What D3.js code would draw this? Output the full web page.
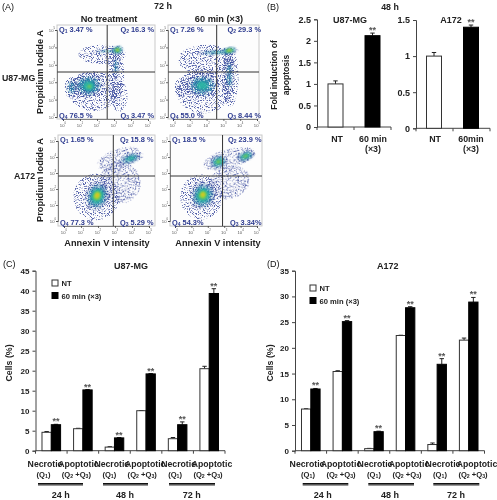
<!DOCTYPE html>
<html><head><meta charset="utf-8">
<script src="https://cdnjs.cloudflare.com/ajax/libs/d3/7.8.5/d3.min.js"></script>
<style>
html,body{margin:0;padding:0;background:#fff;overflow:hidden}
svg{display:block;filter:blur(0.35px)}
text{font-family:"Liberation Sans",Arial,sans-serif;font-weight:700;fill:#222}
</style></head><body>
<svg id="c" width="497" height="500"></svg>
<script>
// ---- Data ----
const decades = [0,1,2,3,4,5];
const densityColors = ["#3b4b9e","#1c7fa6","#2db8a4","#86cc3c","#efe21e","#ef8420"];
// flow cytometry density regions: [log x, log y, spread x, spread y, tilt deg, peak density level]
const blobsU87NT = [
 [1.8,1.5,1.5,1.15,0,0],[2.3,3.6,1.4,0.55,0,0],[3.1,2.4,0.5,1.6,0,0],[3.3,1.2,0.5,0.9,0,0],
 [0.5,1.7,0.4,0.65,0,1],[1.5,1.8,1.0,0.75,0,2],[1.55,1.75,0.45,0.4,0,3],
 [2.6,3.78,0.95,0.09,-2,2],[3.1,2.9,0.22,0.75,0,1],[3.2,3.85,0.36,0.25,-10,4]];
const blobsU87T = [
 [1.8,1.5,1.6,1.3,0,0],[2.0,3.3,1.7,0.85,0,0],[3.4,2.3,0.5,1.7,0,0],
 [0.5,1.7,0.4,0.6,0,0],[1.75,1.8,1.05,0.75,0,2],[1.7,1.85,0.4,0.35,0,2],
 [2.6,3.72,1.3,0.14,-3,2],[3.35,2.4,0.3,1.4,0,1],[3.35,3.82,0.5,0.2,-10,4]];
const blobsA172NT = [
 [1.9,1.5,1.35,1.45,0,0],[3.3,2.4,1.2,1.3,-30,0],[3.2,3.9,1.3,0.6,-20,0],
 [1.95,1.55,0.72,0.95,20,3],[1.95,1.6,0.36,0.5,25,5],
 [3.9,3.9,0.8,0.34,-18,2],[4.0,3.95,0.3,0.14,-18,2]];
const blobsA172T = [
 [1.6,1.5,1.3,1.4,0,0],[3.3,2.4,1.3,1.0,-20,0],[3.3,3.9,1.6,0.6,-15,0],
 [1.7,1.6,0.8,0.9,25,3],[1.7,1.65,0.34,0.42,30,5],
 [2.65,3.7,0.58,0.42,-20,3],[2.65,3.7,0.2,0.14,-20,3],
 [4.3,4.05,0.6,0.32,-20,3],[4.35,4.1,0.22,0.12,-20,3]];
const quadU87NT = ["Q_1 3.47 %","Q_2 16.3 %","Q_4 76.5 %","Q_3 3.47 %"];
const quadU87T  = ["Q_1 7.26 %","Q_2 29.3 %","Q_4 55.0 %","Q_3 8.44 %"];
const quadA172NT= ["Q_1 1.65 %","Q_2 15.8 %","Q_4 77.3 %","Q_3 5.29 %"];
const quadA172T = ["Q_1 18.5 %","Q_2 23.9 %","Q_4 54.3%","Q_3 3.34%"];
const gateLog = [2.6,2.6,2.9,2.9];

const foldCats = ["NT","60 min (×3)"];
const foldU87 = [1,2.12], foldU87Err = [0.07,0.06];
const foldA172 = [1,1.40], foldA172Err = [0.05,0.03];

const cellCats = ["n24","a24","n48","a48","n72","a72"];
const catTop = ["Necrotic","Apoptotic","Necrotic","Apoptotic","Necrotic","Apoptotic"];
const catBottom = ["(Q_1)","(Q_2 +Q_3)","(Q_1)","(Q_2 +Q_3)","(Q_1)","(Q_2 +Q_3)"];
const timeLabels = ["24 h","48 h","72 h"];
const u87NT = [4.6,5.5,0.9,10,3,20.5], u87NTErr = [0.2,0.1,0.1,0.05,0.3,0.6];
const u87T = [6.5,15.2,3.2,19.2,6.5,39.3], u87TErr = [0.1,0.1,0.1,0.1,0.7,1.2];
const a172NT = [8.1,15.4,0.4,22.4,1.2,21.5], a172NTErr = [0.05,0.15,0.05,0.05,0.3,0.4];
const a172T = [12,25.1,3.7,27.8,16.8,28.9], a172TErr = [0.1,0.2,0.1,0.2,1.1,0.9];

// ---- Drawing ----
const svg = d3.select("#c");
const defs = svg.append("defs");
const sp = defs.append("filter").attr("id","speckle").attr("x","-10%").attr("y","-10%").attr("width","120%").attr("height","120%");
sp.append("feTurbulence").attr("type","fractalNoise").attr("baseFrequency",0.85).attr("numOctaves",2).attr("seed",7).attr("result","n");
sp.append("feColorMatrix").attr("in","n").attr("type","matrix")
  .attr("values","0 0 0 0 0  0 0 0 0 0  0 0 0 0 0  7 0 0 0 -3.6").attr("result","a");
sp.append("feComposite").attr("in","SourceGraphic").attr("in2","a").attr("operator","in").attr("result","s");
sp.append("feGaussianBlur").attr("in","s").attr("stdDeviation",0.3);
const sf = defs.append("filter").attr("id","soft").attr("x","-30%").attr("y","-30%").attr("width","160%").attr("height","160%");
sf.append("feGaussianBlur").attr("stdDeviation",1.1);
const sg = defs.append("filter").attr("id","softSpeck").attr("x","-20%").attr("y","-20%").attr("width","140%").attr("height","140%");
sg.append("feGaussianBlur").attr("in","SourceGraphic").attr("stdDeviation",1.6).attr("result","b");
sg.append("feTurbulence").attr("type","fractalNoise").attr("baseFrequency",0.7).attr("numOctaves",2).attr("seed",3).attr("result","n");
sg.append("feColorMatrix").attr("in","n").attr("type","matrix")
  .attr("values","0 0 0 0 0  0 0 0 0 0  0 0 0 0 0  5 0 0 0 -1.7").attr("result","a");
sg.append("feComposite").attr("in","b").attr("in2","a").attr("operator","in");

function rich(sel, str){
  // "_x" subscript, "^x" superscript
  const parts = str.split(/([_^]\S)/).filter(p=>p.length);
  const fs = parseFloat(sel.attr("font-size"));
  let pending = 0;
  parts.forEach(p=>{
    if(p[0]==="_"||p[0]==="^"){
      const d = (p[0]==="_"?0.28:-0.42)*fs;
      sel.append("tspan").attr("dy",d+pending).attr("font-size",fs*0.68).text(p[1]);
      pending = -d;
    } else {
      const t = sel.append("tspan").text(p);
      if(pending) t.attr("dy",pending);
      pending = 0;
    }
  });
  return sel;
}
function label(x,y,str,size,anchor="middle",opt={}){
  const t = svg.append("text").attr("x",x).attr("y",y).attr("font-size",size)
    .attr("text-anchor",anchor).attr("dominant-baseline","central");
  if(opt.rotate) t.attr("transform",`rotate(${opt.rotate} ${x} ${y})`);
  if(opt.fill) t.style("fill",opt.fill);
  if(opt.weight) t.style("font-weight",opt.weight);
  if(opt.spacing) t.style("letter-spacing",opt.spacing);
  return rich(t,str);
}

let clipId=0;
function flow(p, blobs, quads, gate){
  const x = d3.scaleLinear().domain([0,5]).range([p.x0,p.x5]);
  const y = d3.scaleLinear().domain([0,5]).range([p.y0,p.y5]);
  const g = svg.append("g");
  const id = "clip"+(clipId++);
  defs.append("clipPath").attr("id",id).append("rect")
    .attr("x",p.l).attr("y",p.t).attr("width",p.r-p.l).attr("height",p.b-p.t);
  g.append("rect").attr("x",p.l).attr("y",p.t).attr("width",p.r-p.l).attr("height",p.b-p.t)
    .attr("fill","#fdfdfd").attr("stroke","#c9c9c9").attr("stroke-width",1);
  const art = g.append("g").attr("clip-path",`url(#${id})`);
  const ux = (x(1)-x(0)), uy = (y(0)-y(1));
  densityColors.forEach((col,k)=>{
    const layer = art.append("g");
    layer.selectAll("ellipse").data(blobs.filter(b=>b[5]>=k)).join("ellipse")
      .attr("rx",b=>b[2]*ux*(b[5]-k+1)/(b[5]+1))
      .attr("ry",b=>b[3]*uy*(b[5]-k+1)/(b[5]+1))
      .attr("transform",b=>`translate(${x(b[0])},${y(b[1])}) rotate(${b[4]})`)
      .attr("fill",col)
      .attr("opacity",k===0?0.85:0.8)
      .attr("filter",k===0?"url(#speckle)":(k===1?"url(#softSpeck)":"url(#soft)"));
  });
  // gates
  g.append("line").attr("x1",x(gate)).attr("x2",x(gate)).attr("y1",p.t).attr("y2",p.b).attr("stroke","#333").attr("stroke-width",1);
  g.append("line").attr("x1",p.l).attr("x2",p.r).attr("y1",p.gy).attr("y2",p.gy).attr("stroke","#333").attr("stroke-width",1);
  // axes
  const ax = d3.axisBottom(x).tickValues(decades).tickSize(2).tickFormat("");
  const ay = d3.axisLeft(y).tickValues(decades).tickSize(2).tickFormat("");
  const gx = g.append("g").attr("transform",`translate(0,${p.b})`).call(ax);
  const gy = g.append("g").attr("transform",`translate(${p.l},0)`).call(ay);
  [gx,gy].forEach(a=>{a.select(".domain").attr("stroke","#555").attr("stroke-width",0.7);a.selectAll("line").attr("stroke","#333").attr("stroke-width",0.7);});
  decades.forEach(d=>{
    label(x(d),p.b+6,"10^"+d,4.2,"middle",{fill:"#555",weight:400});
    label(p.l-5,y(d),"10^"+d,4.2,"middle",{fill:"#555",weight:400});
  });
  const qc = "#2c3a8f", qs = 7.4;
  label(p.l+2,p.t+4,quads[0],qs,"start",{fill:qc});
  label(p.qr,p.t+4,quads[1],qs,"end",{fill:qc});
  label(p.l+2,p.b-4,quads[2],qs,"start",{fill:qc});
  label(p.qr,p.b-4,quads[3],qs,"end",{fill:qc});
}

const rowA={t:25,b:119,gy:72,y0:117,y5:30}, rowB={t:135,b:226,gy:176,y0:221,y5:141};
flow({...rowA,l:57,r:155,x0:63,x5:148,qr:154},blobsU87NT,quadU87NT,gateLog[0]);
flow({...rowA,l:168,r:259,x0:173,x5:257,qr:261},blobsU87T,quadU87T,gateLog[1]);
flow({...rowB,l:58,r:155,x0:64,x5:149,qr:153.5},blobsA172NT,quadA172NT,gateLog[2]);
flow({...rowB,l:170,r:262,x0:175,x5:257,qr:261.5},blobsA172T,quadA172T,gateLog[3]);

label(2,7,"(A)",9,"start",{weight:400,fill:"#111"});
label(163,6,"72 h",9,"middle");
label(109,18.5,"No treatment",9.2);
label(219,18.5,"60 min (×3)",9.2);
label(2,78,"U87-MG",8.8,"start");
label(14,176,"A172",8.8,"start");
label(40,72,"Propidium Iodide A",9.2,"middle",{rotate:-90});
label(40,180,"Propidium Iodide A",9.2,"middle",{rotate:-90});
label(107,243,"Annexin V intensity",9.2);
label(218,243,"Annexin V intensity",9.2);

function yAxis(y,ticks,x0,fs,fmt){
  const a = d3.axisLeft(y).tickValues(ticks).tickSize(3).tickFormat(fmt||(d=>d));
  const g = svg.append("g").attr("transform",`translate(${x0},0)`).call(a);
  g.select(".domain").attr("stroke","#444").attr("stroke-width",1);
  g.selectAll("line").attr("stroke","#444");
  g.selectAll("text").attr("font-size",fs).style("font-family",'"Liberation Sans",Arial,sans-serif').style("font-weight",700).style("fill","#222");
  return g;
}
function baseline(x,cats,yPos){
  const g = svg.append("g").attr("transform",`translate(0,${yPos})`)
    .call(d3.axisBottom(x).tickValues([]).tickSize(0));
  g.select(".domain").attr("d",`M${x.range()[0]},0H${x.range()[1]}`).attr("stroke","#444").attr("stroke-width",1);
  const step = x.step();
  g.selectAll("line.sep").data(d3.range(cats.length+1)).join("line").attr("class","sep")
    .attr("x1",i=>x.range()[0]+i*step).attr("x2",i=>x.range()[0]+i*step)
    .attr("y1",0).attr("y2",3).attr("stroke","#444");
}
function bar(x,w,val,err,y,fill,star){
  const g = svg.append("g");
  const cx = x+w/2, top = y(val+err);
  g.append("line").attr("x1",cx).attr("x2",cx).attr("y1",y(val)).attr("y2",top).attr("stroke","#222");
  g.append("line").attr("x1",cx-2.2).attr("x2",cx+2.2).attr("y1",top).attr("y2",top).attr("stroke","#222");
  g.append("rect").attr("x",x).attr("y",y(val)).attr("width",w).attr("height",y(0)-y(val))
    .attr("fill",fill).attr("stroke",fill==="#000"?"#000":"#333").attr("stroke-width",1);
  if(star) label(cx,top-3,"**",9,"middle",{fill:"#555"});
}

// Panel B
function foldChart(xr,yr,dom,ticks,vals,errs,title,titleX,labelsX){
  const y = d3.scaleLinear().domain([0,dom]).range(yr);
  const x = d3.scaleBand().domain(foldCats).range(xr).paddingInner(0.0);
  yAxis(y,ticks,xr[0],9);
  baseline(x,foldCats,yr[0]);
  const w=15;
  foldCats.forEach((c,i)=>{
    bar(x(c)+x.bandwidth()/2-w/2+labelsX.off,w,vals[i],errs[i],y,i?"#000":"#fff",i===1);
  });
  label(titleX,20,title,9);
  label(labelsX.a,139,"NT",8.8);
  label(labelsX.b,139,labelsX.t,8.8);
  label(labelsX.b,149,"(×3)",8.8);
}
label(267,7,"(B)",9,"start",{weight:400,fill:"#111"});
label(390,6.5,"48 h",8.8);
foldChart([317,391],[127,19.3],2.5,[0,0.5,1,1.5,2,2.5],foldU87,foldU87Err,"U87-MG",350,{off:0,a:337,b:373,t:"60 min"});
foldChart([416,490],[128.3,20],1.5,[0,0.5,1,1.5],foldA172,foldA172Err,"A172",451,{off:-0.5,a:435,b:471,t:"60min"});
label(274,75,"Fold induction of",8.6,"middle",{rotate:-90});
label(286,75,"apoptosis",8.6,"middle",{rotate:-90});

// Panels C, D
function cellChart(o){
  const y = d3.scaleLinear().domain([0,o.max]).range([450.7,270.7]);
  const x = d3.scaleBand().domain(cellCats).range(o.xr);
  yAxis(y,d3.range(0,o.max+1,5),o.xr[0],8);
  baseline(x,cellCats,450.7);
  const w = 9.3;
  cellCats.forEach((c,i)=>{
    const mid = x(c)+x.bandwidth()/2;
    bar(mid-w,w,o.nt[i],o.ntE[i],y,"#fff",false);
    bar(mid,w,o.t[i],o.tE[i],y,"#000",true);
  });
  const top = d3.scalePoint().domain(cellCats).range(o.topR);
  const bot = d3.scalePoint().domain(cellCats).range(o.botR);
  cellCats.forEach((c,i)=>{
    label(top(c),463.7,catTop[i],8.7);
    label(bot(c),473.7,catBottom[i],7.6);
  });
  timeLabels.forEach((t,i)=>{
    const [a,b]=o.under[i];
    svg.append("rect").attr("x",a).attr("y",484.4).attr("width",b-a).attr("height",1.6).attr("fill","#999");
    svg.append("rect").attr("x",a).attr("y",483).attr("width",b-a).attr("height",1.6).attr("fill","#111");
    label(o.timeX[i],495,t,9);
  });
  label(o.titleX,265.7,o.title,9);
  label(o.ylabX,363,"Cells (%)",8.8,"middle",{rotate:-90});
  label(o.tag[0],o.tag[1],o.tagText,9,"start",{weight:400,fill:"#111"});
  const lg = svg.append("g");
  lg.append("rect").attr("x",o.leg[0]).attr("y",o.leg[1]).attr("width",6).attr("height",6).attr("fill","#fff").attr("stroke","#333");
  lg.append("rect").attr("x",o.leg[0]).attr("y",o.leg[1]+12.5).attr("width",6).attr("height",6).attr("fill","#000").attr("stroke","#000");
  label(o.leg[0]+9.5,o.leg[1]+3,"NT",7.6,"start");
  label(o.leg[0]+9.5,o.leg[1]+15.5,"60 min (×3)",7.6,"start");
}
cellChart({max:45,xr:[35.5,225],nt:u87NT,ntE:u87NTErr,t:u87T,tE:u87TErr,
  topR:[45,212],botR:[43.5,208],under:[[38,83],[103,148],[169,215]],timeX:[60.7,125,191.7],
  title:"U87-MG",titleX:131,ylabX:8.5,tag:[3,264],tagText:"(C)",leg:[52,280]});
cellChart({max:35,xr:[295,484.5],nt:a172NT,ntE:a172NTErr,t:a172T,tE:a172TErr,
  topR:[307,477],botR:[308,473],under:[[302.7,348.3],[368.3,414],[433.3,479.3]],timeX:[322.7,390,456],
  title:"A172",titleX:387.7,ylabX:270,tag:[267,264],tagText:"(D)",leg:[310,285]});
</script>
</body></html>
